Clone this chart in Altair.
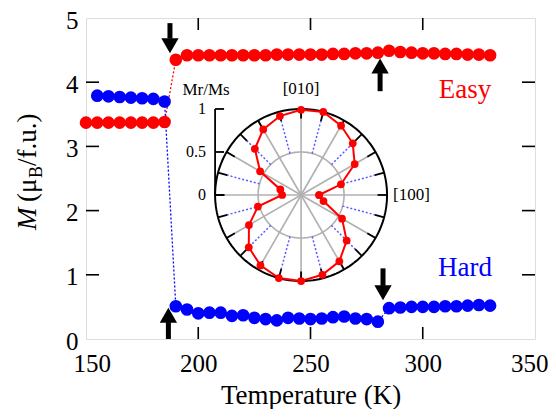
import altair as alt
import pandas as pd
import numpy as np

# ---------------- data ----------------
easy_T = [150, 155, 160, 165, 170, 175, 180, 185,
          190, 195, 200, 205, 210, 215, 220, 225, 230, 235, 240, 245, 250, 255,
          260, 265, 270, 275, 280, 285, 290, 295, 300, 305, 310, 315, 320, 325, 330]
easy_M = [3.37, 3.37, 3.37, 3.37, 3.37, 3.37, 3.37, 3.38,
          4.35, 4.42, 4.42, 4.42, 4.42, 4.42, 4.42, 4.42, 4.42, 4.43, 4.43, 4.43, 4.43, 4.43,
          4.44, 4.44, 4.45, 4.45, 4.46, 4.49, 4.47, 4.46, 4.45, 4.45, 4.44, 4.44, 4.43, 4.43, 4.42]

hard_T = [155, 160, 165, 170, 175, 180, 185,
          190, 195, 200, 205, 210, 215, 220, 225, 230, 235, 240, 245, 250, 255,
          260, 265, 270, 275, 280,
          285, 290, 295, 300, 305, 310, 315, 320, 325, 330]
hard_M = [3.79, 3.78, 3.77, 3.76, 3.75, 3.74, 3.70,
          0.51, 0.46, 0.40, 0.41, 0.41, 0.36, 0.37, 0.33, 0.31, 0.29, 0.33, 0.32, 0.31, 0.32,
          0.34, 0.35, 0.32, 0.31, 0.27,
          0.48, 0.49, 0.50, 0.50, 0.50, 0.51, 0.51, 0.52, 0.53, 0.52]

# inset: remanence ratio vs in-plane angle (degrees)
polar_angle = [0, 15, 30, 45, 60, 75, 90, 105, 120, 135, 150, 165,
               180, 195, 210, 225, 240, 255, 270, 285, 300, 315, 330, 345]
polar_mr = [0.21, 0.48, 0.72, 0.85, 0.93, 1.00, 0.99, 0.95, 0.88, 0.76, 0.55, 0.25,
            0.22, 0.52, 0.70, 0.86, 0.945, 1.00, 1.00, 0.96, 0.89, 0.75, 0.55, 0.27]
radial_ticks = [0, 0.5, 1]
radial_labels = ["0", "0.5", "1"]

x_ticks = [150, 200, 250, 300, 350]
y_ticks = [0, 1, 2, 3, 4, 5]

# arrows: (T, tail M, tip M)
arrow_T = [187.4, 281.0, 186.7, 282.3]
arrow_tail = [4.92, 3.86, 0.00, 1.10]
arrow_tip = [4.46, 4.36, 0.48, 0.61]

# ---------------- layout helpers ----------------
W, H = 449, 321
RED = "#ff0000"
BLUE = "#0000ff"
FONT = "Liberation Serif"

# inset placement inside the main axes (data units)
T0, M0 = 245.8, 2.243     # centre of the polar inset
KX, KY = 38.3, 1.340      # one radial unit in K and in M

def pol(r, deg):
    a = np.deg2rad(deg)
    return T0 + r * np.cos(a) * KX, M0 + r * np.sin(a) * KY

XS = alt.Scale(domain=[150, 350], nice=False, zero=False)
YS = alt.Scale(domain=[0, 5], nice=False)
XA = alt.Axis(values=x_ticks, ticks=False, tickSize=0, domain=False, grid=False,
              labelFontSize=25, labelFont=FONT, labelColor="black", labelPadding=12,
              labelFlush=True, labelFlushOffset=13,
              title="Temperature (K)", titleFont=FONT, titleFontSize=27,
              titleFontWeight="normal", titleColor="black", titlePadding=6, format="d")
YA = alt.Axis(values=y_ticks, ticks=False, tickSize=0, domain=False, grid=False,
              labelFontSize=25, labelFont=FONT, labelColor="black", labelPadding=8,
              labelFlush=False, labelOffset=2, title=None, format="d")

def X(f="x"):
    return alt.X(f + ":Q", scale=XS, axis=XA)

def Y(f="y"):
    return alt.Y(f + ":Q", scale=YS, axis=YA)

# ---------------- main series ----------------
easy = pd.DataFrame({"x": easy_T, "y": easy_M})
hard = pd.DataFrame({"x": hard_T, "y": hard_M})

easy_line = alt.Chart(easy).mark_line(color=RED, strokeDash=[2, 2], strokeWidth=1.3).encode(x=X(), y=Y())
hard_line = alt.Chart(hard).mark_line(color=BLUE, strokeDash=[2, 2], strokeWidth=1.3).encode(x=X(), y=Y())
easy_pts = alt.Chart(easy).mark_circle(color=RED, size=160, opacity=1).encode(x=X(), y=Y())
hard_pts = alt.Chart(hard).mark_circle(color=BLUE, size=160, opacity=1).encode(x=X(), y=Y())

# ---------------- inset geometry ----------------
circ = []
for g, r in (("outer", 1.0), ("inner", 0.5)):
    for i, d in enumerate(range(0, 361, 2)):
        x, y = pol(r, d)
        circ.append({"g": g, "i": i, "x": x, "y": y})
circ = pd.DataFrame(circ)

outer = alt.Chart(circ[circ.g == "outer"]).mark_line(color="black", strokeWidth=2).encode(
    x=X(), y=Y(), order="i:Q")
inner = alt.Chart(circ[circ.g == "inner"]).mark_line(color="#b0b0b0", strokeWidth=1.6).encode(
    x=X(), y=Y(), order="i:Q")

def seg_frame(angles, r0, r1):
    rows = []
    for d in angles:
        x0, y0 = pol(r0, d)
        x1, y1 = pol(r1, d)
        rows.append({"x": x0, "y": y0, "x2": x1, "y2": y1})
    return pd.DataFrame(rows)

spokes = alt.Chart(seg_frame(range(0, 360, 30), 0, 1)).mark_rule(
    color="#b0b0b0", strokeWidth=1.6).encode(x=X(), y=Y(), x2="x2:Q", y2="y2:Q")
dots = alt.Chart(seg_frame(range(15, 360, 30), 0.5, 0.9)).mark_rule(
    color="#5a5aff", strokeWidth=1.5, strokeDash=[2, 2]).encode(x=X(), y=Y(), x2="x2:Q", y2="y2:Q")
rimticks = alt.Chart(seg_frame(range(0, 360, 15), 0.89, 1.0)).mark_rule(
    color="black", strokeWidth=1.8).encode(x=X(), y=Y(), x2="x2:Q", y2="y2:Q")

# radial axis on the left of the inset
rx = T0 - KX
rad_axis = alt.Chart(pd.DataFrame({"x": [rx], "y": [M0], "y2": [M0 + KY]})).mark_rule(
    color="black", strokeWidth=1.8).encode(x=X(), y=Y(), y2="y2:Q")
rad_ticks_df = pd.DataFrame({"x": [rx] * 3, "x2": [rx + 4.0] * 3,
                             "y": [M0 + r * KY for r in radial_ticks], "lab": radial_labels})
rad_ticks = alt.Chart(rad_ticks_df).mark_rule(color="black", strokeWidth=1.8).encode(
    x=X(), y=Y(), x2="x2:Q")
rad_labels = alt.Chart(rad_ticks_df).mark_text(
    align="right", baseline="middle", dx=-9, font=FONT, fontSize=16, color="black").encode(
    x=X(), y=Y(), text="lab:N")

inset_text = pd.DataFrame({
    "x": [rx - 4.0, T0, T0 + 1.07 * KX],
    "y": [M0 + 1.22 * KY, M0 + 1.23 * KY, M0],
    "t": ["Mr/Ms", "[010]", "[100]"],
})
txt_mrms = alt.Chart(inset_text.iloc[[0]]).mark_text(
    align="center", baseline="middle", font=FONT, fontSize=17, color="black").encode(
    x=X(), y=Y(), text="t:N")
txt_010 = alt.Chart(inset_text.iloc[[1]]).mark_text(
    align="center", baseline="middle", font=FONT, fontSize=17, color="black").encode(
    x=X(), y=Y(), text="t:N")
txt_100 = alt.Chart(inset_text.iloc[[2]]).mark_text(
    align="left", baseline="middle", font=FONT, fontSize=17, color="black").encode(
    x=X(), y=Y(), text="t:N")

# polar data curve
pr = []
for i, (d, r) in enumerate(list(zip(polar_angle, polar_mr)) + [(polar_angle[0] + 360, polar_mr[0])]):
    x, y = pol(r, d)
    pr.append({"i": i, "x": x, "y": y})
pr = pd.DataFrame(pr)
pol_line = alt.Chart(pr).mark_line(color=RED, strokeWidth=2).encode(x=X(), y=Y(), order="i:Q")
pol_pts = alt.Chart(pr).mark_circle(color=RED, size=60, opacity=1).encode(x=X(), y=Y())

# ---------------- frame ticks (inward) ----------------
xt = pd.DataFrame({"x": x_ticks[1:-1]})
yt = pd.DataFrame({"y": y_ticks[1:-1]})
tb = alt.Chart(xt).mark_rule(color="black", strokeWidth=1.6).encode(
    x=X(), y=alt.value(H), y2=alt.value(H - 12))
tt = alt.Chart(xt).mark_rule(color="black", strokeWidth=1.6).encode(
    x=X(), y=alt.value(0), y2=alt.value(12))
tl = alt.Chart(yt).mark_rule(color="black", strokeWidth=1.6).encode(
    y=Y(), x=alt.value(0), x2=alt.value(13))
tr = alt.Chart(yt).mark_rule(color="black", strokeWidth=1.6).encode(
    y=Y(), x=alt.value(W), x2=alt.value(W - 13))

# ---------------- arrows ----------------
arr = pd.DataFrame({"x": arrow_T, "y": arrow_tail, "tip": arrow_tip})
arr["down"] = arr["tip"] < arr["y"]
head_off = 7.0 / 64.2
arr["hy"] = np.where(arr["down"], arr["tip"] + head_off, arr["tip"] - head_off)
arr["sy"] = np.where(arr["down"], arr["tip"] + 2 * head_off, arr["tip"] - 2 * head_off)
shafts = alt.Chart(arr).mark_rule(color="black", strokeWidth=5).encode(
    x=X(), y=Y(), y2="sy:Q")
heads_dn = alt.Chart(arr[arr.down]).mark_point(
    shape="triangle-down", size=300, filled=True, color="black", opacity=1).encode(
    x=X(), y=Y("hy"))
heads_up = alt.Chart(arr[~arr.down]).mark_point(
    shape="triangle-up", size=300, filled=True, color="black", opacity=1).encode(
    x=X(), y=Y("hy"))

# ---------------- series labels ----------------
lab = pd.DataFrame({"x": [318.8, 318.8], "y": [3.754, 0.98], "t": ["Easy", "Hard"]})
easy_lab = alt.Chart(lab.iloc[[0]]).mark_text(
    font=FONT, fontSize=27, color=RED, align="center", baseline="alphabetic").encode(
    x=X(), y=Y(), text="t:N")
hard_lab = alt.Chart(lab.iloc[[1]]).mark_text(
    font=FONT, fontSize=27, color=BLUE, align="center", baseline="alphabetic").encode(
    x=X(), y=Y(), text="t:N")

# ---------------- y-axis title with subscript ----------------
def ytitle(text, ypix, xpix, size, style="normal"):
    return alt.Chart(pd.DataFrame({"t": [text]})).mark_text(
        angle=270, align="left", baseline="alphabetic", font=FONT, fontSize=size,
        fontStyle=style, color="black").encode(
        x=alt.value(xpix), y=alt.value(ypix), text="t:N")

yt1 = ytitle("M", 212, -50, 27, "italic")
yt2 = ytitle("(μ", 184, -50, 27)
yt3 = ytitle("B", 160, -44, 18)
yt4 = ytitle("/f.u.)", 148, -50, 27)

chart = alt.layer(
    easy_line, hard_line,
    spokes, inner, dots, rimticks, outer, rad_axis, rad_ticks, rad_labels,
    txt_mrms, txt_010, txt_100, pol_line, pol_pts,
    easy_pts, hard_pts,
    tb, tt, tl, tr,
    shafts, heads_dn, heads_up,
    easy_lab, hard_lab,
    yt1, yt2, yt3, yt4,
).properties(
    width=W, height=H,
    autosize=alt.AutoSizeParams(type="none"),
    padding={"left": 78, "top": 10, "right": 13, "bottom": 70},
).configure_view(
    stroke="black", strokeWidth=1.8
).configure(font=FONT)

chart.save("out.html", embed_options={"renderer": "svg", "actions": False})
